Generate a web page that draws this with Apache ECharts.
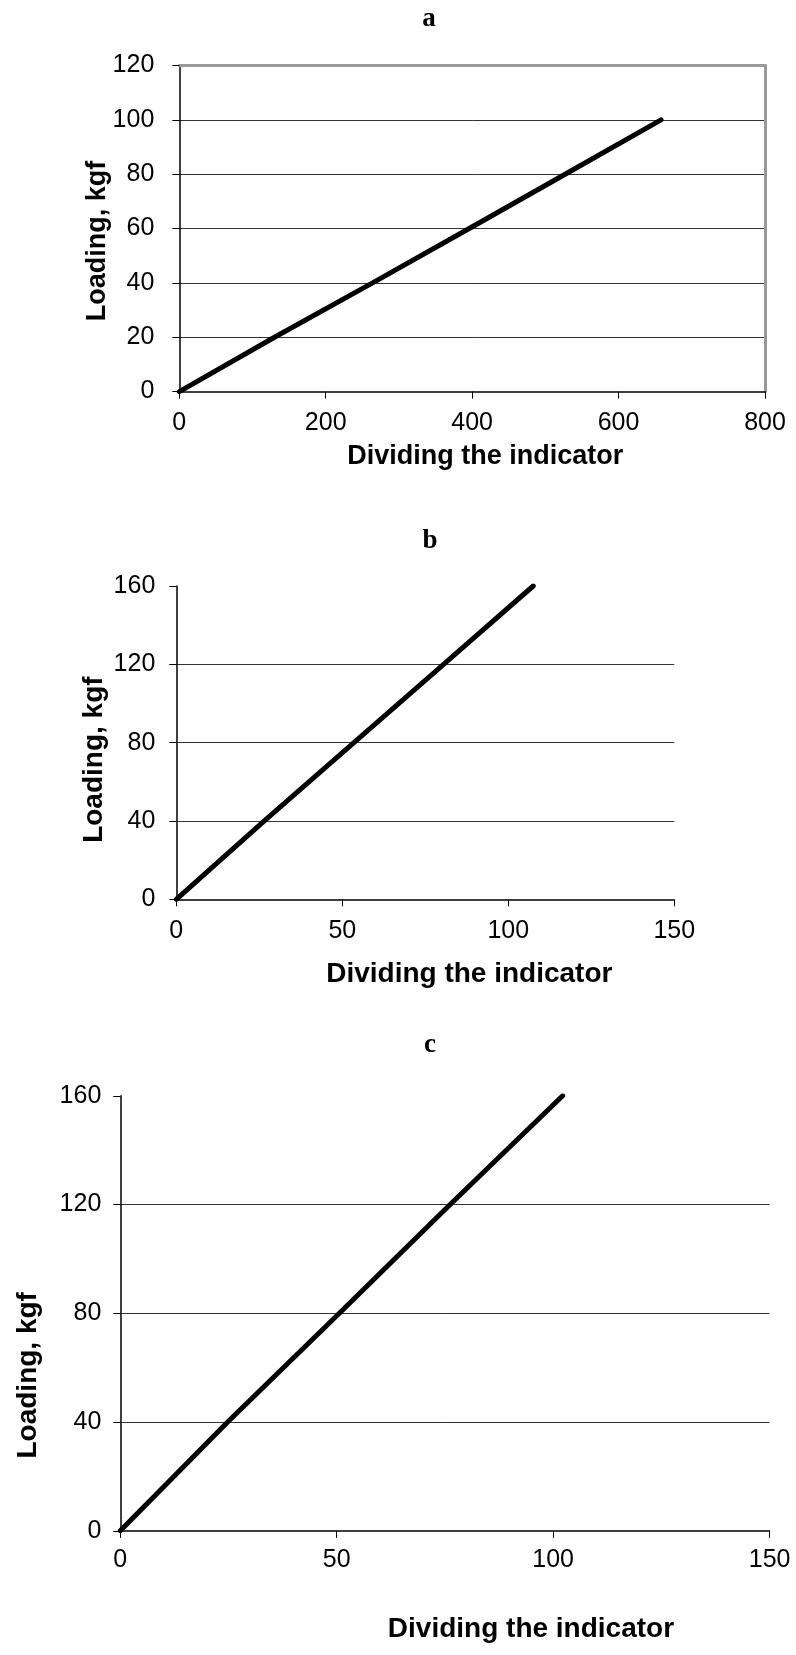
<!DOCTYPE html>
<html>
<head>
<meta charset="utf-8">
<script src="https://cdn.jsdelivr.net/npm/echarts@6/dist/echarts.min.js"></script>
<style>
html,body{margin:0;padding:0;background:#fff;}
#main{width:796px;height:1655px;}
</style>
</head>
<body>
<div id="main"></div>
<script>
// ---- data ----
const panelTitles = ['a', 'b', 'c'];
const xAxisName = 'Dividing the indicator';
const yAxisName = 'Loading, kgf';
const xTicksA = [0, 200, 400, 600, 800];
const yTicksA = [0, 20, 40, 60, 80, 100, 120];
const xTicksB = [0, 50, 100, 150];
const yTicksB = [0, 40, 80, 120, 160];
const xTicksC = [0, 50, 100, 150];
const yTicksC = [0, 40, 80, 120, 160];
const seriesA = [[0, 0], [130, 20], [264, 40], [396, 60], [527, 80], [658, 100]];
const seriesB = [[0, 0], [26.5, 40], [53.5, 80], [80.5, 120], [107.5, 160]];
const seriesC = [[0, 0], [24.8, 40], [50.6, 80], [76.2, 120], [102.2, 160]];

// ---- styles ----
const SANS = "'Liberation Sans', Arial, sans-serif";
const labelStyle = { fontFamily: SANS, fontSize: 25, color: '#000' };
const nameStyleBase = { fontFamily: SANS, fontWeight: 'bold', color: '#000' };

function step(arr) { return arr[1] - arr[0]; }

function xAx(gridIndex, ticks, gap, padLeft, labelMargin, fs) {
  return {
    type: 'value', gridIndex: gridIndex, position: 'bottom',
    min: ticks[0], max: ticks[ticks.length - 1], interval: step(ticks),
    name: xAxisName, nameLocation: 'middle', nameGap: gap, nameMoveOverlap: false,
    nameTextStyle: Object.assign({}, nameStyleBase, { fontSize: fs, padding: [0, 0, 0, padLeft] }),
    axisLine: { show: true, onZero: false, lineStyle: { color: '#000', width: 1.5 } },
    axisTick: { show: true, inside: false, length: 7, lineStyle: { color: '#000', width: 1 } },
    axisLabel: Object.assign({ margin: labelMargin }, labelStyle),
    splitLine: { show: false }
  };
}
function yAx(gridIndex, ticks, gap, padRight, labelMargin, fs) {
  return {
    type: 'value', gridIndex: gridIndex, position: 'left',
    min: ticks[0], max: ticks[ticks.length - 1], interval: step(ticks),
    name: yAxisName, nameLocation: 'middle', nameGap: gap, nameMoveOverlap: false,
    nameTextStyle: Object.assign({}, nameStyleBase, { fontSize: fs, padding: [0, padRight, 0, 0] }),
    axisLine: { show: true, onZero: false, lineStyle: { color: '#000', width: 1.5 } },
    axisTick: { show: true, inside: false, length: 7, lineStyle: { color: '#000', width: 1 } },
    axisLabel: Object.assign({ margin: labelMargin }, labelStyle),
    splitLine: { show: true, showMinLine: false, showMaxLine: false, lineStyle: { color: '#333', width: 1 } }
  };
}
function lineSeries(xi, yi, data) {
  return {
    type: 'line', xAxisIndex: xi, yAxisIndex: yi, data: data,
    showSymbol: false, symbol: 'none', smooth: false,
    lineStyle: { color: '#000', width: 5, cap: 'round' },
    z: 5, animation: false
  };
}

const chart = echarts.init(document.getElementById('main'), null, { renderer: 'canvas' });

const option = {
  backgroundColor: '#fff',
  animation: false,
  grid: [
    { left: 179.3, top: 65.5, width: 585.7, height: 326.1, containLabel: false, outerBoundsMode: 'none' },
    { left: 176.3, top: 586, width: 498, height: 313.3, containLabel: false, outerBoundsMode: 'none' },
    { left: 120.3, top: 1095.8, width: 649.3, height: 435, containLabel: false, outerBoundsMode: 'none' }
  ],
  xAxis: [
    xAx(0, xTicksA, 51, 26, 19, 27),
    xAx(1, xTicksB, 61, 88, 19, 28),
    xAx(2, xTicksC, 84, 172, 17, 28),
    // frame of panel a (top edge)
    {
      type: 'value', gridIndex: 0, position: 'top',
      min: xTicksA[0], max: xTicksA[xTicksA.length - 1], interval: step(xTicksA),
      axisLine: { show: true, onZero: false, lineStyle: { color: '#999', width: 3 } },
      axisTick: { show: false }, axisLabel: { show: false }, splitLine: { show: false }
    }
  ],
  yAxis: [
    yAx(0, yTicksA, 68, 25, 25, 27),
    yAx(1, yTicksB, 68, 34, 21, 28),
    yAx(2, yTicksC, 78, 124, 19, 28),
    // frame of panel a (right edge)
    {
      type: 'value', gridIndex: 0, position: 'right',
      min: yTicksA[0], max: yTicksA[yTicksA.length - 1], interval: step(yTicksA),
      axisLine: { show: true, onZero: false, lineStyle: { color: '#999', width: 3 } },
      axisTick: { show: false }, axisLabel: { show: false }, splitLine: { show: false }
    }
  ],
  graphic: [
    { type: 'text', x: 429, y: 19, style: { text: panelTitles[0], textAlign: 'center', textVerticalAlign: 'middle', font: "bold 27px 'Liberation Serif', 'Times New Roman', serif", fill: '#000' } },
    { type: 'text', x: 430, y: 541, style: { text: panelTitles[1], textAlign: 'center', textVerticalAlign: 'middle', font: "bold 27px 'Liberation Serif', 'Times New Roman', serif", fill: '#000' } },
    { type: 'text', x: 430, y: 1045, style: { text: panelTitles[2], textAlign: 'center', textVerticalAlign: 'middle', font: "bold 27px 'Liberation Serif', 'Times New Roman', serif", fill: '#000' } }
  ],
  series: [
    lineSeries(0, 0, seriesA),
    lineSeries(1, 1, seriesB),
    lineSeries(2, 2, seriesC)
  ]
};
chart.setOption(option);
</script>
</body>
</html>
